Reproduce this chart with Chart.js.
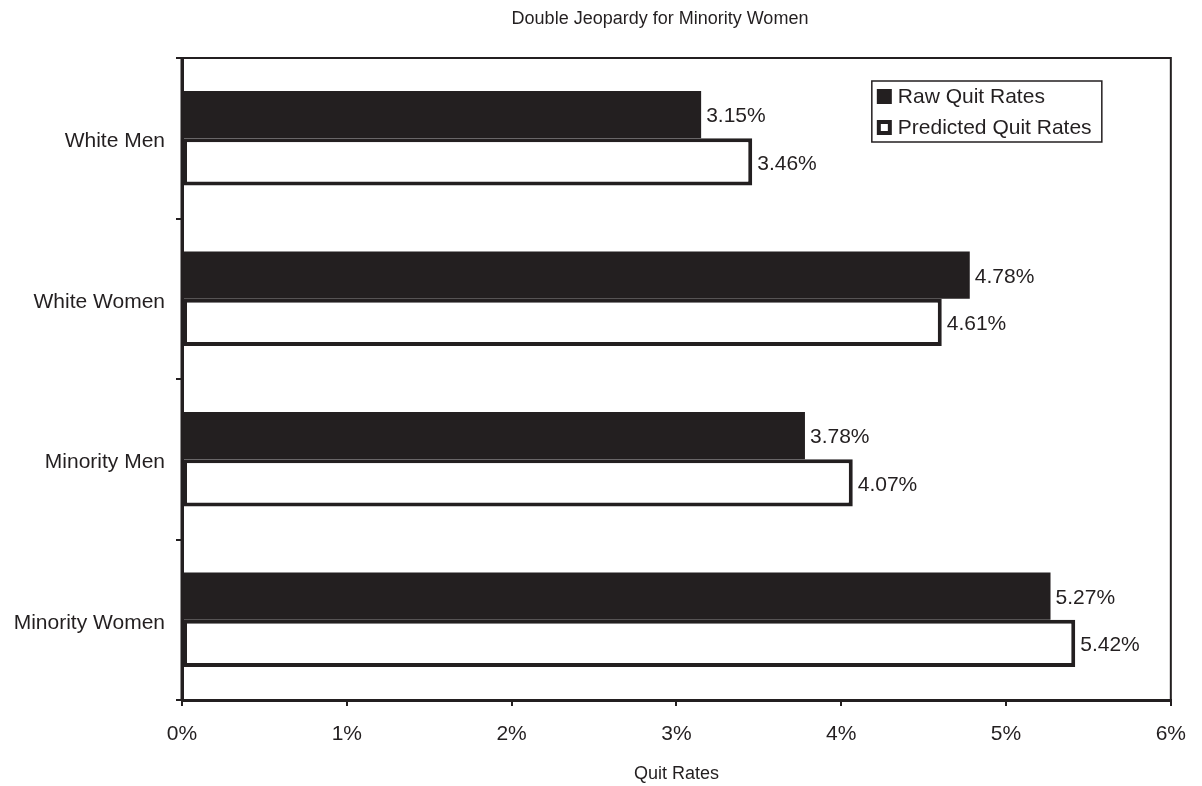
<!DOCTYPE html>
<html>
<head>
<meta charset="utf-8">
<title>Double Jeopardy for Minority Women</title>
<script src="https://cdn.jsdelivr.net/npm/chart.js@4.4.1/dist/chart.umd.min.js"></script>
<style>
  html, body { margin: 0; padding: 0; background: #fff; }
  #wrap { width: 1202px; height: 786px; position: relative; }
</style>
</head>
<body>
<div id="wrap"><canvas id="quitChart"></canvas></div>
<script>
// groups and quit rates (percent)
const groups = ['White Men', 'White Women', 'Minority Men', 'Minority Women'];
const rawQuit = [3.15, 4.78, 3.78, 5.27];
const predictedQuit = [3.46, 4.61, 4.07, 5.42];
const xTicks = [0, 1, 2, 3, 4, 5, 6];

const ink = '#231f20';
const fontFam = '"Liberation Sans", Arial, sans-serif';

// value labels at the end of every bar
const barLabels = {
  id: 'barLabels',
  afterDatasetsDraw(chart) {
    const ctx = chart.ctx;
    ctx.save();
    ctx.fillStyle = ink;
    ctx.font = '21px ' + fontFam;
    ctx.textAlign = 'left';
    ctx.textBaseline = 'middle';
    chart.data.datasets.forEach((ds, i) => {
      chart.getDatasetMeta(i).data.forEach((bar, j) => {
        ctx.fillText(ds.data[j].toFixed(2) + '%', bar.x + 5, bar.y + 2);
      });
    });
    ctx.restore();
  }
};

// frame around the plot, title on top, legend box in the corner
const decor = {
  id: 'decor',
  afterDraw(chart) {
    const ctx = chart.ctx;
    const a = chart.chartArea;
    ctx.save();
    ctx.strokeStyle = ink;
    ctx.lineWidth = 2;
    ctx.beginPath();
    ctx.moveTo(a.left, a.top);
    ctx.lineTo(a.right, a.top);
    ctx.lineTo(a.right, a.bottom);
    ctx.stroke();
    ctx.lineWidth = 3;
    ctx.beginPath();
    ctx.moveTo(a.left, a.top - 1);
    ctx.lineTo(a.left, a.bottom + 1);
    ctx.stroke();

    ctx.fillStyle = ink;
    ctx.font = '18px ' + fontFam;
    ctx.textAlign = 'center';
    ctx.textBaseline = 'middle';
    ctx.fillText('Double Jeopardy for Minority Women', 660, 19);

    // legend
    const bx = a.right - 299, by = a.top + 23, bw = 230, bh = 61;
    ctx.lineWidth = 1.5;
    ctx.fillStyle = '#fff';
    ctx.fillRect(bx, by, bw, bh);
    ctx.strokeRect(bx, by, bw, bh);
    ctx.font = '21px ' + fontFam;
    ctx.textAlign = 'left';
    chart.data.datasets.forEach((ds, i) => {
      const cy = by + 15 + i * 31;
      ctx.fillStyle = ink;
      ctx.fillRect(bx + 5, cy - 7, 15, 15);
      if (i === 1) {
        ctx.fillStyle = '#fff';
        ctx.fillRect(bx + 9, cy - 3, 7, 7);
      }
      ctx.fillStyle = ink;
      ctx.fillText(ds.label, bx + 26, cy + 1);
    });
    ctx.restore();
  }
};

new Chart(document.getElementById('quitChart'), {
  type: 'bar',
  data: {
    labels: groups,
    datasets: [{
      label: 'Raw Quit Rates',
      data: rawQuit,
      backgroundColor: ink,
      borderWidth: 0
    }, {
      label: 'Predicted Quit Rates',
      data: predictedQuit,
      backgroundColor: '#fff',
      borderColor: ink,
      borderWidth: 4,
      borderSkipped: false
    }]
  },
  options: {
    indexAxis: 'y',
    responsive: true,
    maintainAspectRatio: false,
    animation: false,
    layout: { padding: { top: 58, right: 30, left: 0, bottom: 0 } },
    datasets: { bar: { categoryPercentage: 0.59, barPercentage: 1 } },
    plugins: {
      legend: { display: false },
      title: { display: false },
      tooltip: { enabled: false }
    },
    scales: {
      x: {
        min: 0,
        max: 6,
        afterBuildTicks(axis) { axis.ticks = xTicks.map(v => ({ value: v })); },
        afterFit(axis) { axis.height = 86; },
        grid: { drawOnChartArea: false, tickLength: 6, color: ink, lineWidth: 2 },
        border: { display: true, color: ink, width: 3 },
        ticks: {
          color: ink,
          padding: 16,
          font: { family: fontFam, size: 21 },
          callback: v => v + '%'
        },
        title: {
          display: true,
          text: 'Quit Rates',
          color: ink,
          font: { family: fontFam, size: 18 },
          padding: { top: 0, bottom: 1 }
        }
      },
      y: {
        afterFit(axis) { axis.width = 182; },
        grid: { drawOnChartArea: false, tickLength: 6, color: ink, lineWidth: 2, offset: true },
        border: { display: true, color: ink, width: 3 },
        ticks: {
          color: ink,
          padding: 11,
          labelOffset: 3,
          font: { family: fontFam, size: 21 }
        }
      }
    }
  },
  plugins: [barLabels, decor]
});
</script>
</body>
</html>
